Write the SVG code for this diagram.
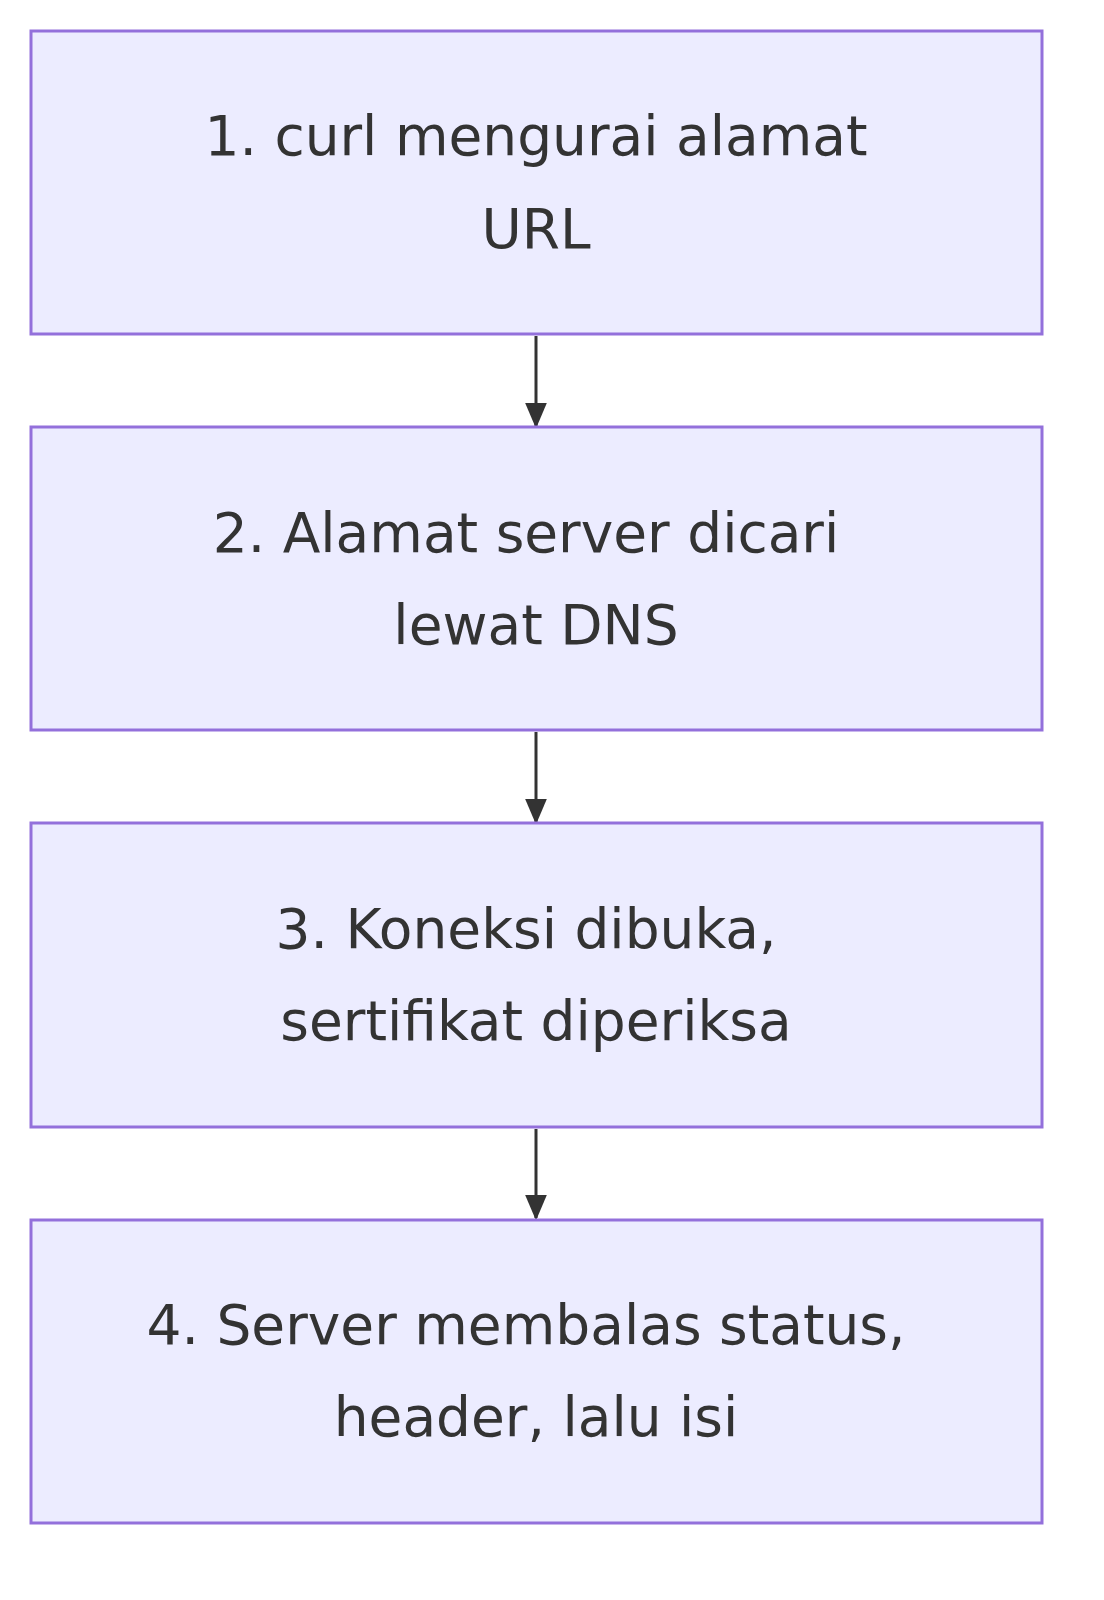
<svg xmlns="http://www.w3.org/2000/svg" width="1104" height="1600" viewBox="0 0 1104 1600">
<style>
.box{fill:#ECECFF;stroke:#9370DB;stroke-width:3}
.t{font-family:"DejaVu Sans",sans-serif;font-size:55px;fill:#333;text-anchor:middle}
.e{stroke:#333;stroke-width:3;fill:none}
</style>
<defs><marker id="a" viewBox="0 0 10 10" refX="9" refY="5" markerWidth="26" markerHeight="22" markerUnits="userSpaceOnUse" orient="auto" preserveAspectRatio="none"><path d="M0,0L10,5L0,10z" fill="#333"/></marker></defs>
<rect width="1104" height="1600" fill="#fff"/>
<g id="edges">
<path class="e" d="M536,336V426" marker-end="url(#a)"/>
<path class="e" d="M536,732V822" marker-end="url(#a)"/>
<path class="e" d="M536,1129V1218" marker-end="url(#a)"/>
</g>
<g id="n1"><rect class="box" x="31" y="31" width="1011" height="303"/><text class="t" x="536" y="155">1. curl mengurai alamat</text><text class="t" x="536" y="248">URL</text></g>
<g id="n2"><rect class="box" x="31" y="427" width="1011" height="303"/><text class="t" x="526" y="552">2. Alamat server dicari</text><text class="t" x="536" y="644">lewat DNS</text></g>
<g id="n3"><rect class="box" x="31" y="823" width="1011" height="304"/><text class="t" x="526" y="948">3. Koneksi dibuka,</text><text class="t" x="536" y="1040">sertifikat diperiksa</text></g>
<g id="n4"><rect class="box" x="31" y="1220" width="1011" height="303"/><text class="t" x="526" y="1344">4. Server membalas status,</text><text class="t" x="536" y="1436">header, lalu isi</text></g>
</svg>
